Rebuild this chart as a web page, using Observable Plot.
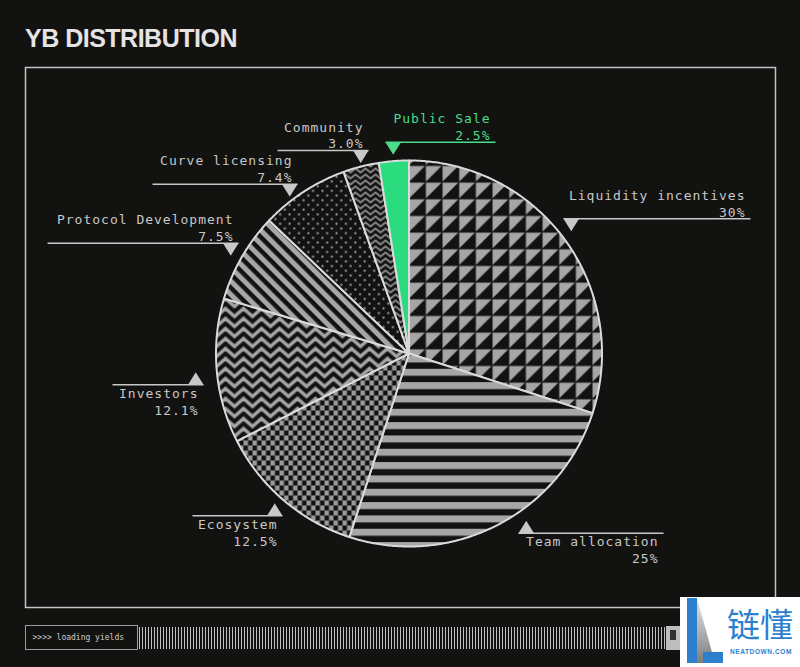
<!DOCTYPE html>
<html><head><meta charset="utf-8">
<script src="https://cdn.jsdelivr.net/npm/d3@7"></script>
<script src="https://cdn.jsdelivr.net/npm/@observablehq/plot@0.6"></script>
<style>
html,body{margin:0;padding:0;background:#121211;}
body{width:800px;height:667px;position:relative;overflow:hidden;}
#title{position:absolute;left:25px;top:25.5px;font:bold 25px/25px "Liberation Sans",Arial,sans-serif;letter-spacing:-0.5px;color:#e4e4e4;z-index:2;white-space:nowrap;}
#chart{position:absolute;left:0;top:0;width:800px;height:667px;}
#chart svg text{letter-spacing:1px;}
#loadbox{position:absolute;left:25px;top:625px;width:104px;height:23px;padding-left:6.5px;border:1.5px solid #9b9b9b;font:8px/23px "DejaVu Sans Mono",monospace;color:#cfcfcf;white-space:nowrap;}
#barcode{position:absolute;left:139px;top:627px;width:527px;height:22px;background:repeating-linear-gradient(90deg,#bdbdbd 0 1px,#121211 1px 3px);}
#endbox{position:absolute;left:666px;top:626px;width:14px;height:24px;background:#bdbdbd;}
#wm{position:absolute;left:680px;top:597px;width:120px;height:70px;background:#fff;z-index:3;}
</style></head><body>
<div id="title">YB DISTRIBUTION</div>
<div id="chart"></div>
<div id="loadbox">&gt;&gt;&gt;&gt; loading yields</div>
<div id="barcode"></div>
<div id="endbox"><div style="position:absolute;left:4px;top:4px;width:6px;height:10px;background:#333"></div></div>
<div id="wm">
  <div style="position:absolute;left:7px;top:1px;width:10px;height:65px;background:#2b7fcc"></div>
  <div style="position:absolute;left:17px;top:1px;width:18px;height:65px;background:linear-gradient(#e6e6e6,#7d7d7d);clip-path:polygon(0 0,0 100%,100% 100%)"></div>
  <div style="position:absolute;left:23px;top:55px;width:20px;height:11px;background:#2b7fcc"></div>
  <div style="position:absolute;left:47px;top:8px;font:33px/36px 'Noto Sans CJK SC',sans-serif;color:#2b80cf;white-space:nowrap">链懂</div>
  <div style="position:absolute;left:50px;top:51px;font:bold 6.5px/8px 'Liberation Sans',sans-serif;letter-spacing:0.6px;color:#2b80cf;white-space:nowrap">NEATDOWN.COM</div>
</div>
<script>
// ---------- data ----------
const categories = ["Liquidity incentives", "Team allocation", "Ecosystem", "Investors", "Protocol Development", "Curve licensing", "Community", "Public Sale"];
const shares = [30, 25, 12.5, 12.1, 7.5, 7.4, 3.0, 2.5];
const shareText = ["30%", "25%", "12.5%", "12.1%", "7.5%", "7.4%", "3.0%", "2.5%"];

// ---------- styles ----------
const sliceFills = ["url(#p-tri)", "url(#p-hstripe)", "url(#p-check)", "url(#p-zig)", "url(#p-diag)", "url(#p-dots)", "url(#p-zigs)", "#2bdc7e"];
const labelColors = ["#c8c8c8", "#c8c8c8", "#c8c8c8", "#c8c8c8", "#c8c8c8", "#c8c8c8", "#c8c8c8", "#4ade8a"];

// ---------- layout (page px) ----------
const CX = 408.5, CY = 353, R = 193;
const labelLayout = [
  {lineY: 218.3, x1: 563, x2: 750, tri: "left",  dir: "down"},
  {lineY: 532.7, x1: 518, x2: 663, tri: "left",  dir: "up"},
  {lineY: 515.3, x1: 192, x2: 282, tri: "right", dir: "up"},
  {lineY: 384.3, x1: 112, x2: 203, tri: "right", dir: "up"},
  {lineY: 242.7, x1: 47,  x2: 238, tri: "right", dir: "down"},
  {lineY: 183.7, x1: 152, x2: 297, tri: "right", dir: "down"},
  {lineY: 150,   x1: 277, x2: 368, tri: "right", dir: "down"},
  {lineY: 141.7, x1: 385, x2: 495, tri: "left",  dir: "down"}
];

// ---------- slices via d3.pie ----------
const arcs = d3.pie().sort(null).value((d, i) => shares[i])(categories);
const slicePts = [];
arcs.forEach((a, i) => {
  const name = categories[i], fill = sliceFills[i];
  const n = Math.max(2, Math.ceil((a.endAngle - a.startAngle) / (Math.PI / 360)));
  slicePts.push({name, fill, x: 0, y: 0});
  for (let k = 0; k <= n; k++) {
    const t = a.startAngle + (a.endAngle - a.startAngle) * k / n;
    slicePts.push({name, fill, x: R * Math.sin(t), y: -R * Math.cos(t)});
  }
});

// ---------- label geometry ----------
const TW = 15.5, TH = 12.5;
const lines = [], tris = [], labels = [];
categories.forEach((name, i) => {
  const L = labelLayout[i], color = labelColors[i];
  const ly = L.lineY - CY;
  lines.push({x1: L.x1 - CX, x2: L.x2 - CX, y: ly, color});
  const xl = (L.tri === "left" ? L.x1 : L.x2 - TW) - CX;
  const ty = L.dir === "down" ? ly + TH : ly - TH;
  tris.push({name, color, x: xl, y: ly}, {name, color, x: xl + TW, y: ly}, {name, color, x: xl + TW / 2, y: ty});
  const tx = L.x2 - 5 - CX;
  labels.push({
    name, value: shareText[i], color, x: tx,
    yName: L.dir === "down" ? ly - 19 : ly + 13,
    yValue: L.dir === "down" ? ly - 2.3 : ly + 30
  });
});

const svg = Plot.plot({
  width: 800, height: 667,
  marginLeft: 25, marginRight: 25, marginTop: 67, marginBottom: 60,
  x: {domain: [25 - CX, 775 - CX], axis: null},
  y: {domain: [607 - CY, 67 - CY], axis: null},
  color: {type: "identity"},
  style: {background: "transparent", overflow: "visible"},
  marks: [
    Plot.frame({stroke: "#c4c4c4", strokeWidth: 1.5}),
    Plot.line(slicePts, {x: "x", y: "y", z: "name", fill: "fill", stroke: "#dadada", strokeWidth: 2, strokeLinejoin: "round", curve: "linear-closed"}),
    Plot.link(lines, {x1: "x1", x2: "x2", y1: "y", y2: "y", stroke: "color", strokeWidth: 1.5}),
    Plot.line(tris, {x: "x", y: "y", z: "name", fill: "color", stroke: "none", curve: "linear-closed"}),
    Plot.text(labels, {x: "x", y: "yName", text: "name", fill: "color", textAnchor: "end", lineAnchor: "bottom", fontFamily: "DejaVu Sans Mono", fontSize: 13}),
    Plot.text(labels, {x: "x", y: "yValue", text: "value", fill: "color", textAnchor: "end", lineAnchor: "bottom", fontFamily: "DejaVu Sans Mono", fontSize: 13})
  ]
});

const G = "#a6a6a6", B = "#121211";
const defs = `
<pattern id="p-tri" patternUnits="userSpaceOnUse" x="408.3" y="165" width="16.67" height="16.67">
  <rect width="16.67" height="16.67" fill="${B}"/>
  <polygon points="0.4,0.4 16.1,0.4 0.4,16.1" fill="${G}"/>
</pattern>
<pattern id="p-hstripe" patternUnits="userSpaceOnUse" x="0" y="368.3" width="20" height="13.33">
  <rect width="20" height="13.33" fill="${B}"/>
  <rect width="20" height="7" fill="${G}"/>
</pattern>
<pattern id="p-check" patternUnits="userSpaceOnUse" width="9" height="10">
  <rect width="9" height="10" fill="${B}"/>
  <rect width="4.5" height="5" fill="#9a9a9a"/>
  <rect x="4.5" y="5" width="4.5" height="5" fill="#9a9a9a"/>
</pattern>
<pattern id="p-zig" patternUnits="userSpaceOnUse" width="18" height="10">
  <rect width="18" height="10" fill="${B}"/>
  <path d="M-9,-2 L0,6 L9,-2 L18,6 L27,-2 M-9,8 L0,16 L9,8 L18,16 L27,8 M-9,-12 L0,-4 L9,-12 L18,-4 L27,-12" fill="none" stroke="${G}" stroke-width="3.4"/>
</pattern>
<pattern id="p-zigs" patternUnits="userSpaceOnUse" width="10" height="6">
  <rect width="10" height="6" fill="${B}"/>
  <path d="M-5,0 L0,4 L5,0 L10,4 L15,0 M-5,6 L0,10 L5,6 L10,10 L15,6 M-5,-6 L0,-2 L5,-6 L10,-2 L15,-6" fill="none" stroke="${G}" stroke-width="1.6"/>
</pattern>
<pattern id="p-diag" patternUnits="userSpaceOnUse" width="9.5" height="9.5" patternTransform="rotate(-45)">
  <rect width="9.5" height="9.5" fill="${B}"/>
  <rect width="5" height="9.5" fill="${G}"/>
</pattern>
<pattern id="p-dots" patternUnits="userSpaceOnUse" width="9.4" height="9.4">
  <rect width="9.4" height="9.4" fill="${B}"/>
  <circle cx="2.35" cy="2.35" r="1.1" fill="#9a9a9a"/>
  <circle cx="7.05" cy="7.05" r="1.1" fill="#9a9a9a"/>
</pattern>`;
d3.select(svg).insert("defs", ":first-child").html(defs);
document.getElementById("chart").appendChild(svg);
</script>
</body></html>
